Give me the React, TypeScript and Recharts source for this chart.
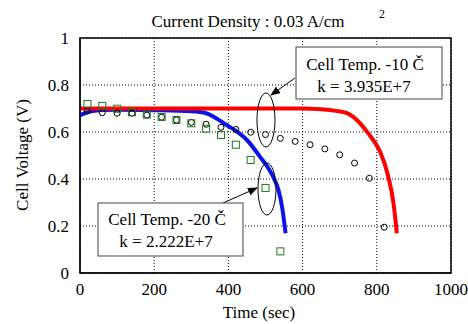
import { ComposedChart, Line, Scatter, XAxis, YAxis, CartesianGrid } from 'recharts'

// measured points (open circles, -10 C)
const circleTimes = [20, 60, 100, 140, 180, 220, 260, 300, 340, 380, 420, 460, 500, 540, 580, 620, 660, 700, 740, 780, 820]
const circleVolts = [0.69, 0.682, 0.68, 0.68, 0.672, 0.663, 0.651, 0.641, 0.633, 0.62, 0.611, 0.599, 0.589, 0.573, 0.56, 0.546, 0.528, 0.503, 0.468, 0.403, 0.195]

// measured points (open squares, -20 C)
const squareTimes = [20, 60, 100, 140, 180, 220, 260, 300, 340, 380, 420, 460, 500, 540]
const squareVolts = [0.719, 0.711, 0.699, 0.684, 0.674, 0.664, 0.651, 0.637, 0.614, 0.587, 0.546, 0.481, 0.362, 0.092]

// model curve -10 C (red)
const redTimes = [0, 100, 200, 300, 400, 500, 600, 650, 690, 720, 755, 777, 795, 809, 831, 845, 854]
const redVolts = [0.7, 0.7, 0.7, 0.7, 0.7, 0.7, 0.7, 0.697, 0.69, 0.68, 0.637, 0.594, 0.555, 0.516, 0.41, 0.297, 0.169]

// model curve -20 C (blue)
const blueTimes = [0, 30, 60, 100, 200, 300, 340, 360, 395, 420, 450, 485, 510, 525, 535, 546, 554]
const blueVolts = [0.672, 0.688, 0.694, 0.695, 0.693, 0.688, 0.68, 0.665, 0.63, 0.605, 0.566, 0.495, 0.44, 0.395, 0.353, 0.268, 0.169]

const xTicks = [0, 200, 400, 600, 800, 1000]
const yTicks = [0, 0.2, 0.4, 0.6, 0.8, 1]

const zip = (ts: number[], vs: number[]) => ts.map((t, i) => ({ t, v: vs[i] }))

const circles = zip(circleTimes, circleVolts)
const squares = zip(squareTimes, squareVolts)
const red = zip(redTimes, redVolts)
const blue = zip(blueTimes, blueVolts)

const FONT = 'Liberation Serif'

const OpenCircle = (props: any) => (
  <circle cx={props.cx} cy={props.cy} r={3} fill="none" stroke="#000" strokeWidth={1} />
)

const OpenSquare = (props: any) => (
  <rect x={props.cx - 3.5} y={props.cy - 3.5} width={7} height={7} fill="none" stroke="#1a7a1a" strokeWidth={1} />
)

const App = () => {
  return (
    <div style={{ position: 'absolute', left: 0, top: 0, width: 468, height: 324, background: '#fff' }}>
      <ComposedChart
        width={468}
        height={324}
        margin={{ top: 38, right: 17, bottom: 21, left: 40 }}
        style={{ fontFamily: FONT }}
      >
        <CartesianGrid stroke="#000" strokeDasharray="1 2" />
        <XAxis
          type="number"
          dataKey="t"
          domain={[0, 1000]}
          ticks={xTicks}
          height={30}
          tickLine={false}
          tickSize={6}
          tickMargin={4}
          axisLine={{ stroke: '#000' }}
          tick={{ fill: '#000', fontSize: 17, fontFamily: FONT }}
        />
        <YAxis
          type="number"
          domain={[0, 1]}
          ticks={yTicks}
          width={40}
          tickLine={false}
          tickSize={6}
          tickMargin={5}
          axisLine={{ stroke: '#000' }}
          tickFormatter={(v: number) => String(v)}
          tick={{ fill: '#000', fontSize: 17, fontFamily: FONT }}
        />
        <Line data={blue} dataKey="v" type="monotone" stroke="#0a14e6" strokeWidth={4} dot={false} isAnimationActive={false} />
        <Line data={red} dataKey="v" type="monotone" stroke="#ff0000" strokeWidth={4} dot={false} isAnimationActive={false} />
        <Scatter data={circles} dataKey="v" shape={OpenCircle} isAnimationActive={false} />
        <Scatter data={squares} dataKey="v" shape={OpenSquare} isAnimationActive={false} />
      </ComposedChart>

      <svg
        width={468}
        height={324}
        style={{ position: 'absolute', left: 0, top: 0, pointerEvents: 'none', fontFamily: FONT }}
      >
        <defs>
          <marker id="arr" markerWidth="10" markerHeight="8" refX="9" refY="4" orient="auto" markerUnits="userSpaceOnUse">
            <path d="M0,0 L10,4 L0,8 Z" fill="#000" />
          </marker>
        </defs>
        <rect x={80} y={38} width={371} height={235} fill="none" stroke="#000" strokeWidth={1.5} />

        <text x={248} y={27} textAnchor="middle" fontSize={17} fill="#000">Current Density : 0.03 A/cm</text>
        <text x={382} y={18} textAnchor="middle" fontSize={12} fill="#000">2</text>

        <text x={259} y={318} textAnchor="middle" fontSize={17} fill="#000">Time (sec)</text>
        <text x={28} y={155} textAnchor="middle" fontSize={17} fill="#000" transform="rotate(-90 28 155)">Cell Voltage (V)</text>

        {/* -10 C annotation */}
        <ellipse cx={266} cy={120} rx={9} ry={27} fill="none" stroke="#000" strokeWidth={1} />
        <line x1={295} y1={78} x2={271} y2={95} stroke="#000" strokeWidth={1} markerEnd="url(#arr)" />
        <rect x={296} y={47} width={146} height={52} fill="#fff" stroke="#444" strokeWidth={1} />
        <text x={365} y={70} textAnchor="middle" fontSize={17} fill="#000">Cell Temp. -10 Č</text>
        <text x={364} y={92} textAnchor="middle" fontSize={17} fill="#000">k = 3.935E+7</text>

        {/* -20 C annotation */}
        <ellipse cx={267} cy={189} rx={9} ry={26} fill="none" stroke="#000" strokeWidth={1} />
        <line x1={223} y1={203} x2={257} y2={188} stroke="#000" strokeWidth={1} markerEnd="url(#arr)" />
        <rect x={98} y={203} width={145} height={53} fill="#fff" stroke="#444" strokeWidth={1} />
        <text x={167} y={225} textAnchor="middle" fontSize={17} fill="#000">Cell Temp. -20 Č</text>
        <text x={166} y={247} textAnchor="middle" fontSize={17} fill="#000">k = 2.222E+7</text>
      </svg>
    </div>
  )
}

export default App
